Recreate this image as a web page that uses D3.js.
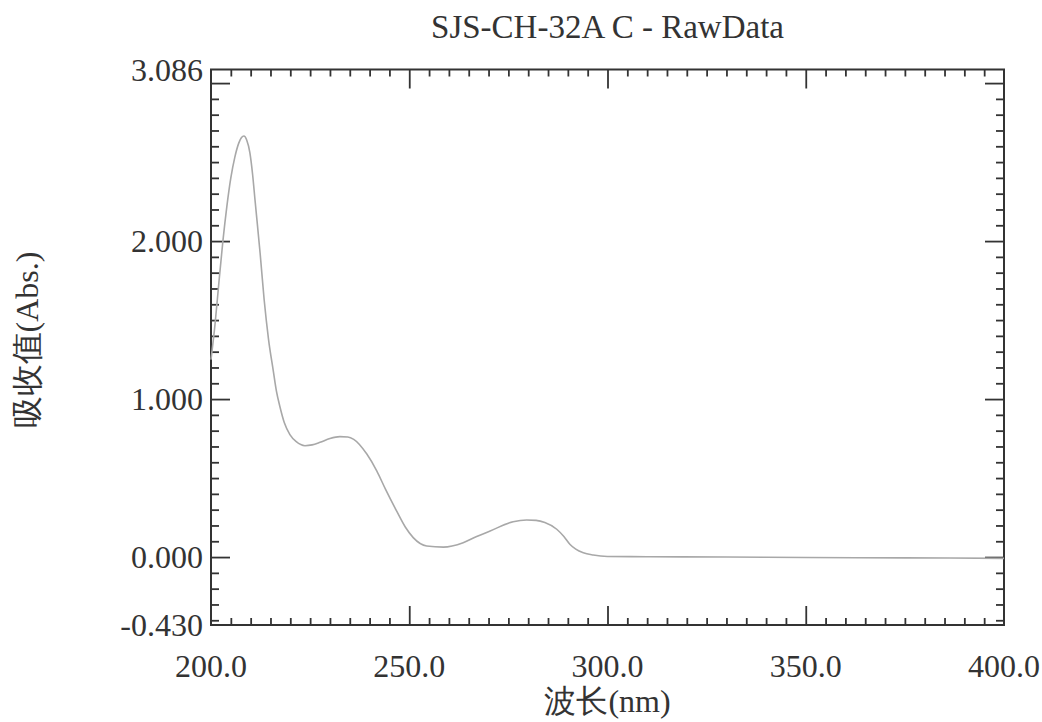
<!DOCTYPE html>
<html>
<head>
<meta charset="utf-8">
<script src="https://cdn.jsdelivr.net/npm/d3@7"></script>
</head>
<body style="margin:0; background:#fff">
<script>
// spectrum
let wavelength = [200, 201, 202, 203, 204, 205, 206, 207, 207.7, 208.3, 209, 209.8, 210.5, 211.1, 212.4, 213.4, 214.5,
    215.7, 216.5, 217.4, 218.5, 219.9, 221.5, 223.7, 225.5, 227.5, 230, 232.5, 234.5, 236, 239.3,
    241.8, 244, 246.8, 249, 251, 254.4, 258.6, 263.6, 267, 270.4, 276.2, 279.6, 282, 284.2, 287.2,
    289, 290.5, 292, 293.9, 296.4, 300, 310, 330, 350, 375, 400];
let absorbance = [1.25, 1.47, 1.74, 2.0, 2.22, 2.40, 2.53, 2.62, 2.655, 2.665, 2.64, 2.56, 2.42, 2.26, 1.92, 1.63, 1.38,
    1.18, 1.05, 0.95, 0.85, 0.775, 0.73, 0.705, 0.71, 0.726, 0.75, 0.762, 0.76, 0.745, 0.652,
    0.546, 0.43, 0.292, 0.19, 0.123, 0.07, 0.063, 0.091, 0.13, 0.165, 0.224, 0.235, 0.232, 0.218, 0.176,
    0.13, 0.081, 0.05, 0.027, 0.013, 0.004, 0.002, 0.0, -0.003, -0.005, -0.008];

let title = "SJS-CH-32A C - RawData";
let xTitle = "波长(nm)";
let yTitle = "吸收值(Abs.)";
let xLabels = [200, 250, 300, 350, 400];
let yLabels = [-0.43, 0, 1, 2, 3.086];

let svgWidth = 1042, svgHeight = 722;
let plotLeft = 211, plotRight = 1004, plotTop = 69.5, plotBottom = 625;
let font = "'Liberation Serif', monospace";

let svg = d3.select("body").append("svg")
    .attr("width", svgWidth)
    .attr("height", svgHeight);

let x = d3.scaleLinear().domain([200, 400]).range([plotLeft, plotRight]);
let y = d3.scaleLinear().domain([-0.43, 3.086]).range([plotBottom, plotTop]);

// tick positions
let xMinor = d3.range(205, 400, 5).filter(v => v % 50 != 0);
let xMajor = [250, 300, 350];
let yMinor = d3.range(-4, 31).map(v => v / 10).filter(v => !Number.isInteger(v));
let yMajor = [0, 1, 2, 3];

function drawAxis(axis, tr) {
    let g = svg.append("g").attr("transform", tr).call(axis);
    g.select(".domain").remove();
    g.selectAll("line").attr("stroke", "#333").attr("stroke-width", 1.8);
    g.selectAll("text").remove();
}

// bottom + top
drawAxis(d3.axisBottom(x).tickValues(xMinor).tickSize(-7), `translate(0,${plotBottom})`);
drawAxis(d3.axisBottom(x).tickValues(xMajor).tickSize(-19), `translate(0,${plotBottom})`);
drawAxis(d3.axisTop(x).tickValues(xMinor).tickSize(-7), `translate(0,${plotTop})`);
drawAxis(d3.axisTop(x).tickValues(xMajor).tickSize(-19), `translate(0,${plotTop})`);
// left + right
drawAxis(d3.axisLeft(y).tickValues(yMinor).tickSize(-8), `translate(${plotLeft},0)`);
drawAxis(d3.axisLeft(y).tickValues(yMajor).tickSize(-19), `translate(${plotLeft},0)`);
drawAxis(d3.axisRight(y).tickValues(yMinor).tickSize(-8), `translate(${plotRight},0)`);
drawAxis(d3.axisRight(y).tickValues(yMajor).tickSize(-19), `translate(${plotRight},0)`);

// frame
svg.append("rect")
    .attr("x", plotLeft).attr("y", plotTop)
    .attr("width", plotRight - plotLeft).attr("height", plotBottom - plotTop)
    .attr("fill", "none").attr("stroke", "#333").attr("stroke-width", 2);

// all texts go in one group with the serif font
let labels = svg.append("g")
    .attr("font-family", font)
    .style("font-family", font)
    .attr("fill", "#333");

// tick labels
labels.selectAll(".xl")
    .data(xLabels).enter().append("text")
    .attr("class", "xl")
    .attr("x", d => x(d))
    .attr("y", plotBottom + 52)
    .attr("text-anchor", "middle")
    .attr("font-size", 32)
    .text(d => d.toFixed(1));

labels.selectAll(".yl")
    .data(yLabels).enter().append("text")
    .attr("class", "yl")
    .attr("x", plotLeft - 8)
    .attr("y", d => y(d))
    .attr("dy", "0.35em")
    .attr("text-anchor", "end")
    .attr("font-size", 32)
    .text(d => d.toFixed(3));

// curve
let points = wavelength.map((w, i) => [w, absorbance[i]]);
let line = d3.line()
    .x(d => x(d[0]))
    .y(d => y(d[1]))
    .curve(d3.curveMonotoneX);

svg.append("path")
    .datum(points)
    .attr("d", line)
    .attr("fill", "none")
    .attr("stroke", "#a8a8a8")
    .attr("stroke-width", 1.6);

// titles
labels.append("text")
    .attr("x", (plotLeft + plotRight) / 2)
    .attr("y", 38)
    .attr("text-anchor", "middle")
    .attr("font-size", 33)
    .text(title);

labels.append("text")
    .attr("x", (plotLeft + plotRight) / 2)
    .attr("y", 712)
    .attr("text-anchor", "middle")
    .attr("font-size", 32)
    .text(xTitle);

labels.append("text")
    .attr("transform", "translate(38,340) rotate(-90)")
    .attr("text-anchor", "middle")
    .attr("font-size", 32)
    .text(yTitle);
</script>
</body>
</html>
